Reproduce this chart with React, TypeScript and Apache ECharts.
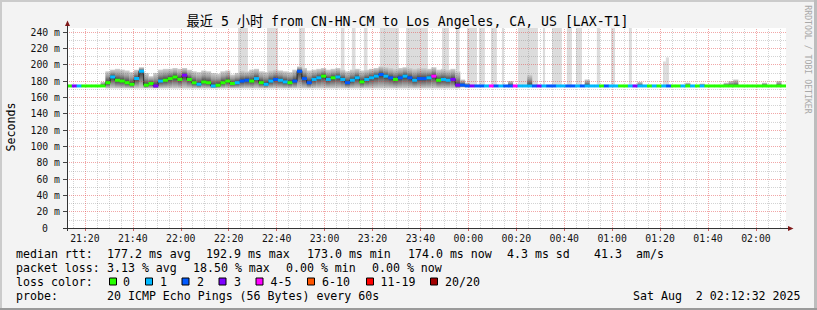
import React, { useEffect, useRef } from 'react';
import * as echarts from 'echarts';

// time axis: minutes after 21:00; graph covers 21:12:32 .. 02:12:32
const START = 12 + 32 / 60;
const SPAN = 300;
const STEP = 2; // minutes per sample column
const Y_MAX = 245;
const BASE = 174;

// median rtt (ms) per 2-minute column
const median = [
  174, 174, 174, 174, 174, 174, 174, 174, 178, 185,
  181, 180, 178, 176, 183, 192, 175, 177, 174, 180,
  181, 183, 185, 182, 187, 182, 178, 176, 179, 178,
  174, 175, 178, 180, 177, 178, 180, 181, 180, 183,
  178, 176, 180, 182, 181, 179, 178, 180, 192, 183,
  178, 182, 184, 186, 182, 184, 185, 182, 178, 181,
  184, 179, 182, 184, 186, 188, 186, 184, 182, 184,
  186, 184, 181, 183, 183, 184, 186, 181, 182, 181,
  182, 175, 175, 174, 174, 174, 174, 174, 174, 174,
  174, 174, 174, 174, 174, 174, 174, 174, 174, 174,
  174, 174, 174, 174, 174, 174, 174, 174, 174, 174,
  174, 174, 174, 174, 174, 174, 174, 174, 174, 174,
  174, 174, 174, 174, 174, 174, 174, 174, 174, 174,
  174, 174, 174, 174, 174, 174, 174, 174, 174, 174,
  174, 174, 174, 174, 174, 174, 174, 174, 174, 174,
];

// loss colour class per column (index into lossNames / lossColors)
const lossLevel = [
  0, 3, 1, 0, 0, 0, 0, 0, 0, 1,
  0, 0, 0, 0, 1, 1, 0, 0, 3, 1,
  0, 0, 0, 0, 3, 0, 0, 1, 0, 0,
  1, 0, 0, 0, 0, 1, 2, 2, 0, 1,
  0, 1, 1, 2, 1, 1, 0, 2, 2, 2,
  2, 1, 1, 0, 1, 0, 1, 1, 2, 1,
  1, 0, 1, 1, 1, 2, 1, 2, 0, 2,
  1, 2, 1, 2, 2, 1, 4, 0, 1, 1,
  3, 3, 2, 2, 3, 2, 2, 1, 4, 2,
  1, 2, 2, 4, 1, 1, 1, 2, 3, 1,
  2, 2, 1, 1, 2, 2, 1, 2, 1, 1,
  1, 0, 2, 1, 1, 0, 0, 1, 3, 1,
  1, 0, 1, 0, 1, 2, 0, 0, 1, 0,
  1, 0, 1, 0, 0, 0, 0, 0, 0, 0,
  0, 0, 0, 0, 0, 0, 0, 0, 0, 0,
];

// smoke extent (ms) per column
const smokeHi = [
  175, 175, 175, 175, 175, 175, 175, 179, 192, 194,
  195, 194, 193, 191, 194, 197, 190, 186, 190, 194,
  195, 195, 196, 195, 196, 194, 192, 191, 193, 192,
  190, 189, 192, 193, 188, 190, 193, 192, 194, 195,
  192, 191, 193, 194, 193, 192, 191, 194, 198, 196,
  193, 194, 195, 196, 194, 195, 196, 194, 192, 194,
  195, 193, 194, 195, 196, 198, 197, 196, 195, 196,
  197, 196, 195, 196, 196, 195, 197, 194, 195, 194,
  195, 192, 182, 178, 175, 175, 175, 175, 175, 175,
  175, 175, 180, 175, 175, 175, 188, 175, 175, 175,
  175, 175, 175, 175, 175, 175, 175, 175, 182, 175,
  175, 175, 175, 175, 175, 175, 175, 175, 175, 179,
  175, 175, 175, 175, 175, 175, 175, 175, 175, 178,
  175, 175, 177, 175, 175, 175, 175, 178, 180, 182,
  175, 175, 175, 175, 175, 178, 175, 175, 180, 175,
];
const smokeLo = [
  173, 173, 173, 173, 173, 173, 173, 173, 171, 171,
  171, 171, 171, 171, 171, 171, 171, 171, 171, 171,
  171, 171, 171, 171, 171, 171, 171, 171, 171, 171,
  171, 171, 171, 171, 171, 171, 171, 171, 171, 171,
  171, 171, 171, 171, 171, 171, 171, 171, 171, 171,
  171, 171, 171, 171, 171, 171, 171, 171, 171, 171,
  171, 171, 171, 171, 171, 171, 171, 171, 171, 171,
  171, 171, 171, 171, 171, 171, 171, 171, 171, 171,
  171, 171, 172, 173, 173, 173, 173, 173, 173, 173,
  173, 173, 173, 173, 173, 173, 173, 173, 173, 173,
  173, 173, 173, 173, 173, 173, 173, 173, 173, 173,
  173, 173, 173, 173, 173, 173, 173, 173, 173, 173,
  173, 173, 173, 173, 173, 173, 173, 173, 173, 173,
  173, 173, 173, 173, 173, 173, 173, 173, 173, 173,
  173, 173, 173, 173, 173, 173, 173, 173, 173, 173,
];

// tall max-ping columns: start / end (minutes after 21:00) and top (ms)
const spikeStart = [83.9, 96.0, 109.3, 126.8, 131.4, 136.4, 143.1, 154.0, 169.0, 174.8, 179.4, 184.4, 189.4, 194.0, 200.7, 211.1, 214.9, 221.1, 224.9, 233.6, 239.5, 247.0, 261.2, 262.4];
const spikeEnd = [88.0, 100.6, 111.8, 128.3, 132.9, 137.9, 151.0, 163.1, 171.9, 176.3, 183.6, 186.9, 191.9, 194.9, 209.0, 212.0, 219.0, 223.2, 227.4, 234.9, 241.2, 248.2, 262.4, 263.7];
const spikeTop = [245, 245, 245, 245, 245, 245, 245, 245, 245, 245, 245, 245, 245, 245, 245, 245, 245, 245, 245, 245, 245, 245, 204, 209];

const xTickValues = [20, 40, 60, 80, 100, 120, 140, 160, 180, 200, 220, 240, 260, 280, 300];
const xTickLabels = ['21:20', '21:40', '22:00', '22:20', '22:40', '23:00', '23:20', '23:40', '00:00', '00:20', '00:40', '01:00', '01:20', '01:40', '02:00'];
const yTickValues = [0, 20, 40, 60, 80, 100, 120, 140, 160, 180, 200, 220, 240];

const lossNames = ['0', '1', '2', '3', '4-5', '6-10', '11-19', '20/20'];
const lossColors = ['#26ff00', '#00b8ff', '#0059ff', '#7e00ff', '#ff00ff', '#ff5500', '#ff0000', '#a10000'];

const titleText = '最近 5 小时 from CN-HN-CM to Los Angeles, CA, US [LAX-T1]';
const rttLabel = 'median rtt:';
const rttStats = ['177.2 ms avg', '192.9 ms max', '173.0 ms min', '174.0 ms now', '4.3 ms sd', '41.3', 'am/s'];
const lossLabel = 'packet loss:';
const lossStats = ['3.13 % avg', '18.50 % max', '0.00 % min', '0.00 % now'];
const colorLabel = 'loss color:';
const probeLabel = 'probe:';
const probeText = '20 ICMP Echo Pings (56 Bytes) every 60s';
const dateParts = ['Sat Aug', '2 02:12:32 2025'];
const sideText = 'RRDTOOL / TOBI OETIKER';
const yAxisName = 'Seconds';

// layout (pixels)
const W = 817;
const H = 310;
const GRID = { left: 67, right: 31, top: 28, bottom: 82 };
const FONT = "'DejaVu Sans Mono', 'Liberation Mono', monospace";
const TITLE_FONT = "'DejaVu Sans Mono', 'Noto Sans CJK SC', monospace";
const rttX = [107, 206, 307, 408, 507, 594, 636];
const lossX = [107, 193, 286, 372];
const boxX = [109.5, 145.5, 182, 219, 256, 307.5, 366.5, 430.5];
const boxLabelX = [123, 160, 197, 234, 270.5, 322, 380.5, 445];
const rowY = [254.4, 268.4, 281.7, 296];

function txt(text: string, x: number, y: number, size: number, align = 'left', color = '#000', extra: any = {}, family = FONT) {
  return {
    type: 'text',
    x,
    y,
    silent: true,
    z: 100,
    ...extra,
    style: {
      text,
      fill: color,
      fontSize: size,
      fontFamily: family,
      align,
      textAlign: align,
      verticalAlign: 'middle',
      textVerticalAlign: 'middle',
    },
  };
}

export default function App() {
  const ref = useRef<HTMLDivElement>(null);

  useEffect(() => {
    if (!ref.current) return;
    const chart = echarts.init(ref.current, undefined, { renderer: 'svg' });

    const smokeData = median.map((m, i) => [START + i * STEP, START + (i + 1) * STEP, smokeLo[i], smokeHi[i], m]);
    const medianData = median.map((m, i) => [START + i * STEP, START + (i + 1) * STEP, m, lossLevel[i]]);
    const stepLine: number[][] = [];
    median.forEach((m, i) => {
      stepLine.push([START + i * STEP, m]);
      stepLine.push([START + (i + 1) * STEP, m]);
    });
    const spikeData = spikeStart.map((s, i) => [s, spikeEnd[i], spikeTop[i]]);

    const minorX: number[] = [];
    for (let v = 15; v < START + SPAN; v += 5) if (v % 20 !== 0) minorX.push(v);
    const minorY: number[] = [];
    for (let v = 10; v < Y_MAX; v += 20) minorY.push(v);

    const minorStyle = { color: 'rgba(120,120,120,0.33)', width: 1, type: [1, 1] as any };
    const majorStyle = { color: 'rgba(225,60,60,0.45)', width: 1, type: [1, 1] as any };
    const gridLines = [
      ...minorX.map((v) => ({ xAxis: v, lineStyle: minorStyle })),
      ...minorY.map((v) => ({ yAxis: v, lineStyle: minorStyle })),
      ...xTickValues.map((v) => ({ xAxis: v, lineStyle: majorStyle })),
      ...yTickValues.filter((v) => v > 0).map((v) => ({ yAxis: v, lineStyle: majorStyle })),
    ];

    const plotL = GRID.left;
    const plotR = W - GRID.right;
    const plotB = H - GRID.bottom;
    const plotT = GRID.top;

    const graphic: any[] = [
      // frame
      { type: 'line', silent: true, z: 100, shape: { x1: 0, y1: 1, x2: W, y2: 1 }, style: { stroke: '#cbcbcb', lineWidth: 2 } },
      { type: 'line', silent: true, z: 100, shape: { x1: 1, y1: 0, x2: 1, y2: H }, style: { stroke: '#cbcbcb', lineWidth: 2 } },
      { type: 'line', silent: true, z: 100, shape: { x1: W - 1.5, y1: 0, x2: W - 1.5, y2: H }, style: { stroke: '#bdbdbd', lineWidth: 3 } },
      { type: 'line', silent: true, z: 100, shape: { x1: 0, y1: H - 1, x2: W, y2: H - 1 }, style: { stroke: '#9a9a9a', lineWidth: 2 } },
      // axes
      { type: 'line', silent: true, z: 100, shape: { x1: plotL - 4, y1: plotB + 0.5, x2: plotR + 3, y2: plotB + 0.5 }, style: { stroke: '#333', lineWidth: 1 } },
      { type: 'line', silent: true, z: 100, shape: { x1: plotL + 0.5, y1: plotB + 3, x2: plotL + 0.5, y2: plotT - 4 }, style: { stroke: '#333', lineWidth: 1 } },
      { type: 'polygon', silent: true, z: 101, shape: { points: [[plotL - 2, plotT - 2], [plotL + 3, plotT - 2], [plotL + 0.5, plotT - 7.5]] }, style: { fill: '#7f1818' } },
      { type: 'polygon', silent: true, z: 101, shape: { points: [[plotR + 2, plotB - 2], [plotR + 2, plotB + 3], [plotR + 7.5, plotB + 0.5]] }, style: { fill: '#7f1818' } },
      // titles
      txt(titleText, 407.5, 21.5, 13.2, 'center', '#000', {}, TITLE_FONT),
      txt(yAxisName, 10.5, 127, 11.6, 'center', '#000', { rotation: Math.PI / 2 }),
      txt(sideText, 807.5, 59.5, 8.2, 'center', '#a8a8a8', { rotation: -Math.PI / 2 }),
      // legend rows
      txt(rttLabel, 16, rowY[0], 11.6),
      ...rttStats.map((s, i) => txt(s, rttX[i], rowY[0], 11.6)),
      txt(lossLabel, 16, rowY[1], 11.6),
      ...lossStats.map((s, i) => txt(s, lossX[i], rowY[1], 11.6)),
      txt(colorLabel, 16, rowY[2], 11.6),
      ...lossNames.map((n, i) => txt(n, boxLabelX[i], rowY[2], 11.6)),
      ...lossColors.map((c, i) => ({
        type: 'rect', silent: true, z: 100,
        shape: { x: boxX[i], y: rowY[2] - 3.7, width: 7, height: 7 },
        style: { fill: c, stroke: '#000', lineWidth: 1 },
      })),
      txt(probeLabel, 16, rowY[3], 11.6),
      txt(probeText, 107, rowY[3], 11.6),
      txt(dateParts[0], 633, rowY[3], 11.6),
      txt(dateParts[1], 800.5, rowY[3], 11.6, 'right'),
    ];

    chart.setOption({
      animation: false,
      backgroundColor: '#f3f3f3',
      grid: { ...GRID, show: true, backgroundColor: '#ffffff', borderWidth: 0 },
      xAxis: {
        type: 'value',
        min: START,
        max: START + SPAN,
        axisLine: { show: false },
        splitLine: { show: false },
        axisTick: { show: true, customValues: xTickValues, length: 3, lineStyle: { color: '#d06060' } },
        axisLabel: {
          show: true,
          customValues: xTickValues,
          margin: 5,
          fontSize: 9.8,
          fontFamily: FONT,
          color: '#111',
          formatter: (v: number) => {
            const k = xTickValues.indexOf(Math.round(v));
            return k >= 0 ? xTickLabels[k] : '';
          },
        },
      },
      yAxis: {
        type: 'value',
        min: 0,
        max: Y_MAX,
        axisLine: { show: false },
        splitLine: { show: false },
        axisTick: { show: true, customValues: yTickValues, length: 4, lineStyle: { color: '#444' } },
        axisLabel: {
          show: true,
          customValues: yTickValues,
          margin: 7,
          fontSize: 9.8,
          fontFamily: FONT,
          color: '#111',
          formatter: (v: number) => (v === 0 ? '{z|0}' : `${v} m`),
          rich: { z: { padding: [0, 12, 0, 0], fontSize: 9.8, fontFamily: FONT, color: '#111' } },
        },
      },
      series: [
        {
          type: 'custom',
          z: 1,
          silent: true,
          clip: true,
          data: spikeData,
          encode: { x: [0, 1], y: 2 },
          renderItem: (_p: any, api: any) => {
            const a = api.coord([api.value(0), BASE]);
            const b = api.coord([api.value(1), Math.min(api.value(2), Y_MAX)]);
            return {
              type: 'rect',
              shape: { x: a[0], y: b[1], width: b[0] - a[0], height: a[1] - b[1] },
              style: { fill: '#dcdcdc' },
            };
          },
        },
        {
          type: 'custom',
          z: 2,
          silent: true,
          clip: true,
          data: smokeData,
          encode: { x: [0, 1], y: [2, 3] },
          renderItem: (_p: any, api: any) => {
            const lo = api.value(2);
            const hi = api.value(3);
            const a = api.coord([api.value(0), hi]);
            const b = api.coord([api.value(1), lo]);
            const m = api.coord([api.value(0), api.value(4)]);
            const h = b[1] - a[1];
            if (h < 0.5) return null;
            let f = (m[1] - a[1]) / h;
            f = Math.min(0.92, Math.max(0.08, f));
            return {
              type: 'rect',
              shape: { x: a[0], y: a[1], width: b[0] - a[0] + 0.3, height: h },
              style: {
                fill: {
                  type: 'linear', x: 0, y: 0, x2: 0, y2: 1,
                  colorStops: [
                    { offset: 0, color: '#d2d2d2' },
                    { offset: f * 0.45, color: '#9c9c9c' },
                    { offset: f, color: '#3c3c3c' },
                    { offset: f + (1 - f) * 0.55, color: '#8c8c8c' },
                    { offset: 1, color: '#cfcfcf' },
                  ],
                },
              },
            };
          },
        },
        {
          type: 'line',
          z: 3,
          silent: true,
          data: [[START, -10]],
          showSymbol: false,
          lineStyle: { opacity: 0 },
          markLine: {
            silent: true,
            symbol: ['none', 'none'],
            label: { show: false },
            emphasis: { disabled: true },
            animation: false,
            data: gridLines,
          },
        },
        {
          type: 'line',
          z: 4,
          silent: true,
          data: stepLine,
          showSymbol: false,
          lineStyle: { color: '#202020', width: 1 },
        },
        {
          type: 'custom',
          z: 5,
          silent: true,
          clip: true,
          data: medianData,
          encode: { x: [0, 1], y: 2 },
          renderItem: (_p: any, api: any) => {
            const a = api.coord([api.value(0), api.value(2)]);
            const b = api.coord([api.value(1), api.value(2)]);
            return {
              type: 'rect',
              shape: { x: a[0], y: a[1] - 1.5, width: b[0] - a[0] + 0.3, height: 3 },
              style: { fill: lossColors[api.value(3)] },
            };
          },
        },
      ],
      graphic,
    });

    return () => chart.dispose();
  }, []);

  return <div ref={ref} style={{ position: 'absolute', left: 0, top: 0, width: W, height: H }} />;
}
